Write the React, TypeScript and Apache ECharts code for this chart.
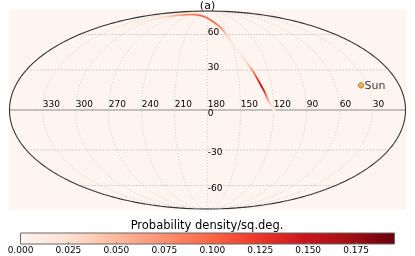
import React, { useEffect, useRef } from "react";
import * as echarts from "echarts";

const FONT = "DejaVu Sans";
const meridianLons = [30, 60, 90, 120, 150, 180, 210, 240, 270, 300, 330];
const parallelLats = [-60, -30, 30, 60];
const lonTicks = [330, 300, 270, 240, 210, 180, 150, 120, 90, 60, 30];
const latTicks = [60, 30, 0, -30, -60];
const trackLon = [311.1, 308.6, 303.7, 292.7, 277, 254.6, 222, 186.6, 165.7, 157.1, 152.4, 146.6, 140.5, 137.1, 134.9, 131.8, 129.3, 126.9, 124.7, 122.2, 120.2, 118.6, 117.5];
const trackLat = [68, 71.9, 76.2, 79.2, 81, 82.3, 82.5, 79.2, 71.9, 65.4, 57.7, 46.2, 37.9, 32.3, 28.7, 22.3, 17.3, 12.6, 7.4, 3.7, 1.25, -2.2, -5.9];
const trackDensity = [0.004, 0.012, 0.02, 0.03, 0.055, 0.08, 0.095, 0.105, 0.1, 0.08, 0.03, 0.012, 0.025, 0.05, 0.085, 0.14, 0.175, 0.125, 0.07, 0.03, 0.015, 0.006, 0.002];
const sunLon = 35.9;
const sunLat = 18.3;
const colorbarTicks = [0, 0.025, 0.05, 0.075, 0.1, 0.125, 0.15, 0.175];
const colorbarMax = 0.195;
const reds = ["#fff5f0", "#fee0d2", "#fcbba1", "#fc9272", "#fb6a4a", "#ef3b2c", "#cb181d", "#a50f15", "#67000d"];

function moll(lon: number, lat: number): [number, number] {
  const target = Math.PI * Math.sin((lat * Math.PI) / 180);
  let lo = -Math.PI / 2;
  let hi = Math.PI / 2;
  for (let i = 0; i < 50; i++) {
    const m = (lo + hi) / 2;
    if (2 * m + Math.sin(2 * m) < target) lo = m;
    else hi = m;
  }
  const t = (lo + hi) / 2;
  return [((180 - lon) / 180) * Math.cos(t), Math.sin(t)];
}

function hexRgb(h: string) {
  return [1, 3, 5].map((i) => parseInt(h.slice(i, i + 2), 16));
}

function redsAt(v: number) {
  const f = Math.max(0, Math.min(0.9999, v / colorbarMax)) * (reds.length - 1);
  const i = Math.floor(f);
  const a = hexRgb(reds[i]);
  const b = hexRgb(reds[i + 1]);
  const c = a.map((x, k) => Math.round(x + (b[k] - x) * (f - i)));
  return `rgb(${c[0]},${c[1]},${c[2]})`;
}

const range = (a: number, b: number, s: number) => {
  const r: number[] = [];
  for (let v = a; v <= b; v += s) r.push(v);
  return r;
};

const gridLine = (data: number[][], color: string, width: number, type: any, z = 2) => ({
  type: "line",
  data,
  showSymbol: false,
  symbol: "none",
  silent: true,
  clip: false,
  z,
  lineStyle: { color, width, type },
});

const trackPts = trackLon.map((l, i) => moll(l, trackLat[i]));

function trackRender(scale: number, lineWidth: number) {
  return (params: any, api: any) => {
    const i = params.dataIndex;
    if (i >= trackPts.length - 1) return null;
    const P = (k: number) => api.coord(trackPts[Math.max(0, Math.min(trackPts.length - 1, k))]);
    const [p0, p1, p2, p3] = [P(i - 1), P(i), P(i + 1), P(i + 2)];
    const cr = (t: number, d: number) =>
      0.5 *
      (2 * p1[d] +
        (p2[d] - p0[d]) * t +
        (2 * p0[d] - 5 * p1[d] + 4 * p2[d] - p3[d]) * t * t +
        (3 * p1[d] - p0[d] - 3 * p2[d] + p3[d]) * t * t * t);
    const n = 6;
    const children: any[] = [];
    for (let s = 0; s < n; s++) {
      const a = s / n;
      const b = (s + 1) / n;
      const v = trackDensity[i] + (trackDensity[i + 1] - trackDensity[i]) * (a + b) * 0.5;
      children.push({
        type: "line",
        shape: { x1: cr(a, 0), y1: cr(a, 1), x2: cr(b, 0), y2: cr(b, 1) },
        style: { stroke: redsAt(v * scale), lineWidth, lineCap: "round" },
      });
    }
    return { type: "group", children };
  };
}

function textRender(labels: number[], anchor: (v: number) => [number, number], dy: (v: number) => number) {
  return (params: any, api: any) => {
    const v = labels[params.dataIndex];
    const c = api.coord(anchor(v));
    return {
      type: "text",
      x: c[0] + 0.3,
      y: c[1] + dy(v),
      style: { text: String(v), font: `9px "${FONT}"`, fill: "#000", textAlign: "left", textVerticalAlign: "middle" },
    };
  };
}

export default function App() {
  const ref = useRef<HTMLDivElement>(null);
  useEffect(() => {
    const chart = echarts.init(ref.current!, undefined, { renderer: "svg" });
    const lats = range(-90, 90, 1);
    const lons = range(0, 360, 3);
    const series: any[] = [];
    meridianLons.forEach((m) =>
      series.push(gridLine(lats.map((a) => moll(m, a)), "#b8b8b8", 0.7, [1, 2]))
    );
    parallelLats.forEach((p) =>
      series.push(gridLine(lons.map((l) => moll(l, p)), "#999", 0.8, [1, 2]))
    );
    series.push(gridLine(lons.map((l) => moll(l, 0)), "#888", 1, "solid"));
    series.push({
      type: "custom",
      data: trackPts,
      renderItem: trackRender(0.35, 2.4),
      clip: false,
      silent: true,
      z: 3,
    });
    series.push({
      type: "custom",
      data: trackPts,
      renderItem: trackRender(1, 1.2),
      clip: false,
      silent: true,
      z: 4,
    });
    series.push(gridLine(lats.map((a) => moll(0, a)), "#333", 1.1, "solid", 5));
    series.push(gridLine(lats.map((a) => moll(360, a)), "#333", 1.1, "solid", 5));
    series.push({
      type: "custom",
      data: lonTicks.map((l) => moll(l, 0)),
      renderItem: textRender(lonTicks, (v) => moll(v, 0), () => -5.9),
      clip: false,
      silent: true,
      z: 6,
    });
    series.push({
      type: "custom",
      data: latTicks.map((a) => moll(180, a)),
      renderItem: textRender(latTicks, (v) => moll(180, v), (v) => (v > 0 ? -3 : v === 0 ? 3.2 : 2.4)),
      clip: false,
      silent: true,
      z: 6,
    });
    series.push({
      type: "scatter",
      data: [moll(sunLon, sunLat)],
      symbol: "circle",
      symbolSize: 5.5,
      itemStyle: { color: "#f5a30a", borderColor: "#333", borderWidth: 0.6 },
      label: {
        show: true,
        formatter: "Sun",
        position: "right",
        distance: 0.5,
        fontFamily: FONT,
        fontSize: 11,
        color: "#000",
      },
      silent: true,
      z: 7,
    });
    series.push({
      type: "custom",
      xAxisIndex: 1,
      yAxisIndex: 1,
      data: [[0, 1]],
      clip: false,
      silent: true,
      z: 1,
      renderItem: (_: any, api: any) => {
        const a = api.coord([0, 1]);
        const b = api.coord([colorbarMax, 0]);
        return {
          type: "rect",
          shape: { x: a[0], y: a[1], width: b[0] - a[0], height: b[1] - a[1] },
          style: {
            fill: new echarts.graphic.LinearGradient(
              0, 0, 1, 0,
              reds.map((color, i) => ({ offset: i / (reds.length - 1), color }))
            ),
            stroke: "#666",
            lineWidth: 1,
          },
        };
      },
    });
    chart.setOption({
      animation: false,
      textStyle: { fontFamily: FONT },
      title: [
        {
          text: "(a)",
          left: 202.5,
          top: -5,
          textAlign: "center",
          textStyle: { fontFamily: FONT, fontSize: 11, fontWeight: "normal", color: "#000" },
        },
        {
          text: "Probability density/sq.deg.",
          left: 202,
          top: 213.5,
          textAlign: "center",
          textStyle: { fontFamily: FONT, fontSize: 11.5, fontWeight: "normal", color: "#000" },
        },
      ],
      grid: [
        { left: 9, top: 10, width: 397, height: 200, show: true, backgroundColor: "#fff5f0", borderWidth: 0 },
        { left: 20.5, top: 233, width: 374, height: 11 },
      ],
      xAxis: [
        { type: "value", min: -1.0025, max: 1.0025, show: false, gridIndex: 0 },
        {
          type: "value",
          min: 0,
          max: colorbarMax,
          gridIndex: 1,
          axisLine: { show: false },
          splitLine: { show: false },
          axisTick: { show: true, inside: true, length: 2, customValues: colorbarTicks, lineStyle: { color: "#777", width: 0.8 } },
          axisLabel: {
            show: true,
            customValues: colorbarTicks,
            formatter: (v: number) => v.toFixed(3),
            fontFamily: FONT,
            fontSize: 9,
            color: "#000",
            margin: 1,
            hideOverlap: false,
          },
          z: 10,
        },
      ],
      yAxis: [
        { type: "value", min: -1.0101, max: 1.0101, show: false, gridIndex: 0 },
        { type: "value", min: 0, max: 1, show: false, gridIndex: 1 },
      ],
      series,
    });
    return () => chart.dispose();
  }, []);
  return <div ref={ref} style={{ position: "fixed", left: 0, top: 0, width: 415, height: 256 }} />;
}
